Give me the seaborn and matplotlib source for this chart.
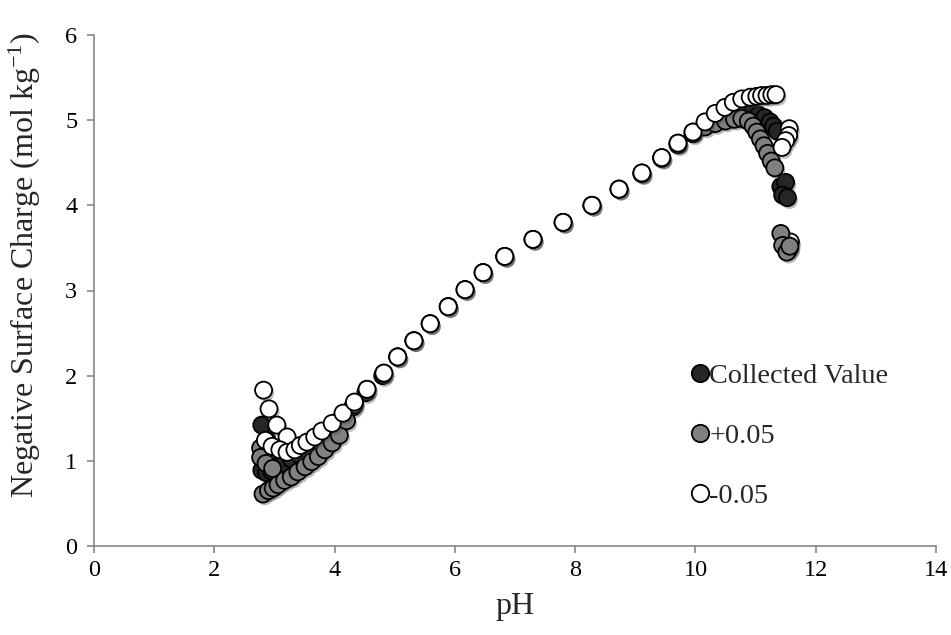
import matplotlib
matplotlib.use("Agg")
import matplotlib.pyplot as plt
import matplotlib.patheffects as pe
from matplotlib.lines import Line2D
import numpy as np
import pandas as pd
import seaborn as sns

# --- data -------------------------------------------------------------
collected_ph = [2.79, 2.88, 3.00, 3.15,
                2.79, 2.87, 2.95, 3.05, 3.16, 3.28, 3.40, 3.52, 3.65, 3.78, 3.93,
                4.10, 4.30, 4.52, 4.80, 5.05, 5.32, 5.59, 5.89, 6.17, 6.47, 6.83,
                7.30, 7.80, 8.28, 8.73, 9.11, 9.44, 9.71, 9.96,
                10.16, 10.33, 10.50, 10.65, 10.80, 10.94, 11.05, 11.15, 11.24,
                11.30, 11.36,
                11.42, 11.50, 11.45, 11.53]
collected_q = [1.42, 1.24, 1.12, 1.04,
               0.89, 0.86, 0.88, 0.92, 0.97, 1.02, 1.08, 1.14, 1.20, 1.28, 1.37,
               1.49, 1.63, 1.80, 2.00, 2.22, 2.41, 2.61, 2.81, 3.01, 3.21, 3.40,
               3.60, 3.80, 4.00, 4.19, 4.38, 4.56, 4.73, 4.86,
               4.96, 5.04, 5.08, 5.10, 5.10, 5.08, 5.06, 5.03, 4.98,
               4.93, 4.87,
               4.22, 4.27, 4.12, 4.09]

plus_ph = [2.77, 2.77, 2.86, 2.97,
           2.81, 2.90, 2.98, 3.06, 3.17, 3.28, 3.39, 3.51, 3.62, 3.73, 3.84,
           3.96, 4.08, 4.20, 4.33, 4.54, 4.82, 5.05, 5.32, 5.59, 5.89, 6.17,
           6.47, 6.83, 7.30, 7.80, 8.28, 8.73, 9.11, 9.44, 9.71, 9.96,
           10.16, 10.33, 10.50, 10.65, 10.77, 10.88, 10.96, 11.02, 11.08,
           11.14, 11.20, 11.26, 11.32,
           11.42, 11.45, 11.52, 11.57]
plus_q = [1.15, 1.04, 0.97, 0.91,
          0.61, 0.65, 0.68, 0.72, 0.77, 0.81, 0.87, 0.93, 0.99, 1.05, 1.13,
          1.21, 1.30, 1.47, 1.66, 1.84, 2.03, 2.22, 2.41, 2.61, 2.81, 3.01,
          3.21, 3.40, 3.60, 3.80, 4.00, 4.19, 4.37, 4.55, 4.71, 4.84,
          4.92, 4.96, 4.99, 5.01, 5.02, 4.99, 4.93, 4.86, 4.78,
          4.70, 4.61, 4.52, 4.44,
          3.67, 3.53, 3.45, 3.52]

minus_ph = [2.82, 2.91, 3.04, 3.21,
            2.85, 2.96, 3.09, 3.21, 3.34, 3.43, 3.54, 3.67, 3.79, 3.96, 4.14,
            4.33, 4.54, 4.82, 5.05, 5.32, 5.59, 5.89, 6.17, 6.47, 6.83, 7.30,
            7.80, 8.28, 8.73, 9.11, 9.44, 9.71, 9.96,
            10.16, 10.33, 10.49, 10.63, 10.77, 10.91, 11.02, 11.10, 11.19,
            11.27, 11.34,
            11.56, 11.55, 11.50, 11.44,
            11.58, 11.56]
minus_q = [1.83, 1.61, 1.42, 1.28,
           1.24, 1.17, 1.13, 1.10, 1.13, 1.18, 1.22, 1.28, 1.35, 1.44, 1.56,
           1.69, 1.84, 2.03, 2.22, 2.41, 2.61, 2.81, 3.01, 3.21, 3.40, 3.60,
           3.80, 4.00, 4.19, 4.38, 4.56, 4.73, 4.86,
           4.98, 5.08, 5.15, 5.21, 5.25, 5.27, 5.28, 5.29, 5.29,
           5.30, 5.30,
           4.90, 4.82, 4.76, 4.68,
           3.57, 3.49]

series_labels = ["Collected Value", "+0.05", "-0.05"]
series_colors = ["#262626", "#808080", "#ffffff"]

x_ticks = [0, 2, 4, 6, 8, 10, 12, 14]
y_ticks = [0, 1, 2, 3, 4, 5, 6]

df = pd.concat([
    pd.DataFrame({"pH": collected_ph, "charge": collected_q, "series": series_labels[0]}),
    pd.DataFrame({"pH": plus_ph, "charge": plus_q, "series": series_labels[1]}),
    pd.DataFrame({"pH": minus_ph, "charge": minus_q, "series": series_labels[2]}),
], ignore_index=True)

# stacking: collected at the back, then +0.05, then -0.05 on top,
# except the -0.05 drop below pH ~11.4 which sits behind the +0.05 points
df["layer"] = 3
df.loc[(df["series"] == series_labels[2]) & (df["charge"] < 4.0) & (df["pH"] > 11), "layer"] = 1
df.loc[(df["series"] == series_labels[0]), "layer"] = 1
df.loc[(df["series"] == series_labels[1]), "layer"] = 2

# --- style ------------------------------------------------------------
sns.set_style("ticks")
plt.rcParams["font.family"] = ["Liberation Serif", "DejaVu Serif"]
plt.rcParams["mathtext.fontset"] = "custom"
plt.rcParams["mathtext.rm"] = "Liberation Serif"
plt.rcParams["mathtext.it"] = "Liberation Serif:italic"

axis_grey = "#868686"

fig = plt.figure(figsize=(9.51, 6.35), dpi=100)
ax = fig.add_axes([94 / 951, 1 - 546 / 635, (936 - 94) / 951, (546 - 35) / 635])

shadow = [pe.SimplePatchShadow(offset=(1.5, -2.0), shadow_rgbFace="0.25", alpha=0.35),
          pe.Normal()]

palette = dict(zip(series_labels, series_colors))
draw_order = [(series_labels[2], 1), (series_labels[0], 1),
              (series_labels[1], 2), (series_labels[2], 3)]
for lab, layer in draw_order:
    sub = df[(df["series"] == lab) & (df["layer"] == layer)]
    sns.scatterplot(data=sub, x="pH", y="charge", color=palette[lab],
                    edgecolor="black", linewidth=1.3, s=150, ax=ax,
                    legend=False, zorder=3)
    ax.collections[-1].set_path_effects(shadow)

ax.set_xlim(0, 14)
ax.set_ylim(0, 6)
ax.set_xticks(x_ticks)
ax.set_yticks(y_ticks)
ax.set_xticklabels([str(t) for t in x_ticks])
ax.set_yticklabels([str(t) for t in y_ticks])
ax.tick_params(axis="both", colors=axis_grey, labelcolor="black",
               labelsize=17.5, length=5, width=1.2, direction="out")
ax.tick_params(axis="x", pad=5)
ax.tick_params(axis="y", pad=7)

sns.despine(ax=ax)
for side in ("left", "bottom"):
    ax.spines[side].set_color(axis_grey)
    ax.spines[side].set_linewidth(1.2)

ax.set_xlabel("pH", fontsize=23, labelpad=8)
ax.set_ylabel(r"Negative Surface Charge (mol kg$^{\mathregular{-1}}$)",
              fontsize=23, labelpad=8)
ax.yaxis.set_label_coords(-0.061, 0.55)

handles = [Line2D([0], [0], marker="o", linestyle="none", markersize=12.5,
                  markerfacecolor=c, markeredgecolor="black", markeredgewidth=1.3)
           for c in series_colors]
ax.legend(handles, series_labels, loc="upper left",
          bbox_to_anchor=(692 / 951, 1 - 363 / 635), bbox_transform=fig.transFigure,
          frameon=False, fontsize=20.3, handlelength=0.6, handletextpad=0.02,
          labelspacing=1.22, borderpad=0.0, borderaxespad=0.0)

fig.savefig("out.png", dpi=100)
